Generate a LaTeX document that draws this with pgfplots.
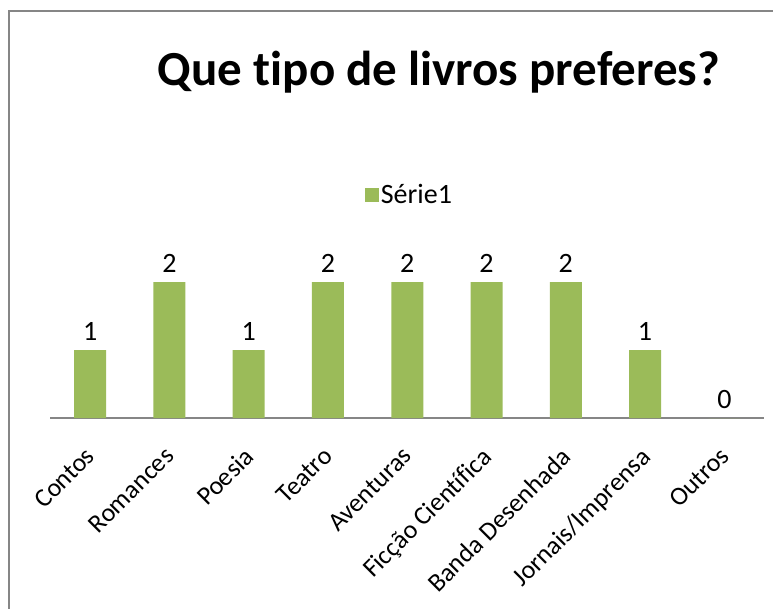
\documentclass[border=0pt]{standalone}
\usepackage{pgfplots}
\pgfplotsset{compat=1.18}
\usepackage{fontspec}
\setmainfont[Ligatures={NoCommon}]{Carlito}
\definecolor{barg}{HTML}{9BBB59}
\definecolor{axg}{HTML}{868686}
\begin{document}
\begin{tikzpicture}
\useasboundingbox (0pt,0pt) rectangle (773pt,-608pt);
\draw[axg, line width=2pt] (9pt,-610pt) -- (9pt,-11pt) -- (775pt,-11pt);
\node[anchor=base, font=\fontsize{49}{52}\selectfont\bfseries] at (439pt,-85pt) {Que tipo de livros preferes?};
\begin{axis}[
  at={(50.5pt,-418pt)}, anchor=south west,
  scale only axis, width=713.5pt, height=204pt,
  xmin=-0.5, xmax=8.5, ymin=0, ymax=3,
  hide y axis,
  axis x line*=bottom,
  x axis line style={axg, line width=1.5pt, -},
  xtick={0,...,8},
  xticklabels={Contos,Romances,Poesia,Teatro,Aventuras,Ficção Científica,Banda Desenhada,Jornais/Imprensa,Outros},
  major tick length=0pt,
  x tick label style={xshift=-6pt, yshift=-23pt, rotate=45, anchor=north east, font=\fontsize{26}{28}\selectfont},
  ybar, bar width=32pt,
  /pgf/number format/assume math mode=true,
  nodes near coords,
  nodes near coords style={font=\fontsize{28}{30}\selectfont, yshift=6pt},
  legend style={at={(0.503,1.093)}, anchor=center, draw=none, fill=none, font=\fontsize{28}{30}\selectfont, legend cell align=left},
  legend image code/.code={\fill[barg] (0pt,-7pt) rectangle (14pt,7pt);},
  clip=false,
]
\addplot[fill=barg, draw=none] coordinates {(0,1) (1,2) (2,1) (3,2) (4,2) (5,2) (6,2) (7,1) (8,0)};
\addlegendentry{Série1}
\end{axis}
\end{tikzpicture}
\end{document}
